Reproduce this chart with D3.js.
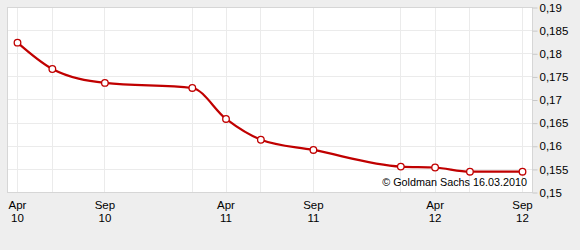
<!DOCTYPE html>
<html><head><meta charset="utf-8">
<script src="https://cdn.jsdelivr.net/npm/d3@7"></script>
<style>
html,body{margin:0;padding:0;background:#eeeeee;}
svg{display:block;font-family:"Liberation Sans",Arial,sans-serif;}
</style></head><body>
<svg id="c" width="580" height="250"></svg>
<script>
const dates = ["2010-04-01","2010-06-01","2010-09-01","2011-02-01","2011-04-01","2011-06-01","2011-09-01","2012-02-01","2012-04-01","2012-06-01","2012-09-01"];
const values = [0.1824,0.1767,0.1737,0.1726,0.1659,0.1614,0.1592,0.1556,0.1554,0.1545,0.1545];
const yTicks = [0.15,0.155,0.16,0.165,0.17,0.175,0.18,0.185,0.19];
const xTickDates = ["2010-04-01","2010-09-01","2011-04-01","2011-09-01","2012-04-01","2012-09-01"];
const xTickLabels = [["Apr","10"],["Sep","10"],["Apr","11"],["Sep","11"],["Apr","12"],["Sep","12"]];
const gridDates = dates;
const credit = "© Goldman Sachs 16.03.2010";

const parse = d3.utcParse("%Y-%m-%d");
const data = dates.map((d,i)=>({date:parse(d), v:values[i]}));
const svg = d3.select("#c");
const L=7.5, T=7.5, R=532.5, B=192.5;

const x = d3.scaleUtc().domain([parse(dates[0]), parse(dates[dates.length-1])]).range([17.5,522.5]);
const y = d3.scaleLinear().domain([0.15,0.19]).range([B,T]);

svg.append("rect").attr("x",L).attr("y",T).attr("width",R-L).attr("height",B-T)
  .attr("fill","#fff");

const grid = svg.append("g").attr("stroke","#ebebeb").attr("stroke-width",1);
grid.selectAll("line.h").data(yTicks).join("line")
  .attr("x1",L).attr("x2",R).attr("y1",d=>Math.round(y(d)-0.5)+0.5).attr("y2",d=>Math.round(y(d)-0.5)+0.5);
grid.selectAll("line.v").data(gridDates).join("line")
  .attr("y1",T).attr("y2",B).attr("x1",d=>Math.round(x(parse(d))-0.5)+0.5).attr("x2",d=>Math.round(x(parse(d))-0.5)+0.5);

svg.append("rect").attr("x",L).attr("y",T).attr("width",R-L).attr("height",B-T)
  .attr("fill","none").attr("stroke","#d6d6d6");

// right axis
const yAxis = d3.axisRight(y).tickValues(yTicks).tickSize(5).tickPadding(2)
  .tickFormat(d=>d3.format("")(+d.toFixed(3)).replace(".",","));
const ya = svg.append("g").attr("transform",`translate(${R},0)`).call(yAxis);
ya.select(".domain").remove();
ya.selectAll(".tick line").attr("stroke","#c8c8c8");
ya.selectAll(".tick text").attr("fill","#000").style("font-size","11.5px").style("font-family","'Liberation Sans',Arial,sans-serif");

// x labels
const xl = svg.append("g");
xTickDates.forEach((d,i)=>{
  const t = xl.append("text").attr("x",x(parse(d))).attr("text-anchor","middle")
    .style("font-size","11.5px").attr("fill","#000");
  t.append("tspan").attr("x",x(parse(d))).attr("y",208.5).text(xTickLabels[i][0]);
  t.append("tspan").attr("x",x(parse(d))).attr("y",221.5).text(xTickLabels[i][1]);
});

// line
const line = d3.line().x(d=>x(d.date)).y(d=>y(d.v)).curve(d3.curveMonotoneX);
svg.append("path").datum(data).attr("d",line).attr("fill","none")
  .attr("stroke","#c00000").attr("stroke-width",2.2);
svg.selectAll("circle").data(data).join("circle")
  .attr("cx",d=>x(d.date)).attr("cy",d=>y(d.v)).attr("r",3.3)
  .attr("fill","#fff").attr("stroke","#c00000").attr("stroke-width",1.3);

svg.append("text").attr("x",527).attr("y",186).attr("text-anchor","end")
  .style("font-size","10.8px").attr("fill","#000").text(credit);
</script>
</body></html>
